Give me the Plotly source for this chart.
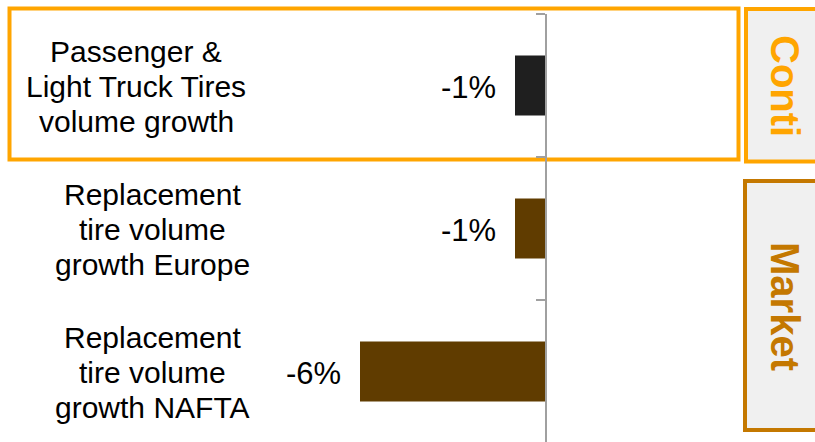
import plotly.graph_objects as go

categories = ["Passenger &<br>Light Truck Tires<br>volume growth",
              "Replacement<br>tire volume<br>growth Europe",
              "Replacement<br>tire volume<br>growth NAFTA"]
values = [-1, -1, -6]
value_labels = ["-1%", "-1%", "-6%"]
bar_colors = ["#1f1f1f", "#603c00", "#603c00"]
label_centers_px = [136, 152, 152]

W, H = 815, 442
FONT = "Liberation Sans, Arial, sans-serif"

def px(x):
    return x / W

def py(y):
    return 1 - y / H

fig = go.Figure()
fig.add_trace(go.Bar(
    y=list(range(len(values))), x=values, orientation="h",
    marker=dict(color=bar_colors, line=dict(width=0)),
    width=0.42, hoverinfo="skip", showlegend=False,
))

zero_px = 546
per_pct = 31
fig.update_layout(
    width=W, height=H,
    margin=dict(l=0, r=0, t=0, b=0),
    paper_bgcolor="white", plot_bgcolor="rgba(0,0,0,0)",
    xaxis=dict(range=[-zero_px / per_pct, (W - zero_px) / per_pct],
               visible=False, fixedrange=True),
    yaxis=dict(range=[2.493, -0.5], domain=[0, 1 - 14 / H],
               anchor="free", position=zero_px / W, fixedrange=True,
               showline=True, linecolor="#a0a0a0", linewidth=2,
               ticks="outside", ticklen=9, tickcolor="#a0a0a0", tickwidth=2,
               tickmode="array", tickvals=[-0.5, 0.5, 1.5, 2.5],
               showticklabels=False, showgrid=False, zeroline=False),
)

# decorative frames
fig.add_shape(type="rect", xref="paper", yref="paper",
              x0=px(9.5), x1=px(738.5), y0=py(8.5), y1=py(159.5),
              line=dict(color="#ffa500", width=4), fillcolor="rgba(0,0,0,0)", layer="below")
fig.add_shape(type="rect", xref="paper", yref="paper",
              x0=px(746), x1=px(830), y0=py(9), y1=py(161.5),
              line=dict(color="#ffa500", width=4), fillcolor="#f0f0f0", layer="below")
fig.add_shape(type="rect", xref="paper", yref="paper",
              x0=px(745), x1=px(830), y0=py(181), y1=py(430),
              line=dict(color="#c47800", width=4), fillcolor="#f0f0f0", layer="below")

fig.add_annotation(xref="paper", yref="paper", x=px(785), y=py(86),
                   xanchor="center", yanchor="middle",
                   text="<b>Conti</b>", textangle=90, showarrow=False,
                   font=dict(family=FONT, size=40, color="#ffa500"))
fig.add_annotation(xref="paper", yref="paper", x=px(785), y=py(306),
                   xanchor="center", yanchor="middle",
                   text="<b>Market</b>", textangle=90, showarrow=False,
                   font=dict(family=FONT, size=40, color="#c47800"))

LINE = 35
for i, (cat, v, lab, cx) in enumerate(zip(categories, values, value_labels, label_centers_px)):
    lines = cat.split("<br>")
    n = len(lines)
    for k, line in enumerate(lines):
        fig.add_annotation(xref="paper", yref="y", x=px(cx), y=i,
                           yshift=-1 - (k - (n - 1) / 2) * LINE,
                           text=line, showarrow=False, xanchor="center", yanchor="middle",
                           font=dict(family=FONT, size=30, color="#000000"))
    fig.add_annotation(xref="x", yref="y", x=v, y=i, xshift=-17, yshift=-2,
                       text=lab, showarrow=False, xanchor="right", yanchor="middle",
                       font=dict(family=FONT, size=31, color="#000000"))

fig.write_html("out.html", config={"displayModeBar": False},
               post_script="document.body.style.margin='0';document.body.style.overflow='hidden';")
